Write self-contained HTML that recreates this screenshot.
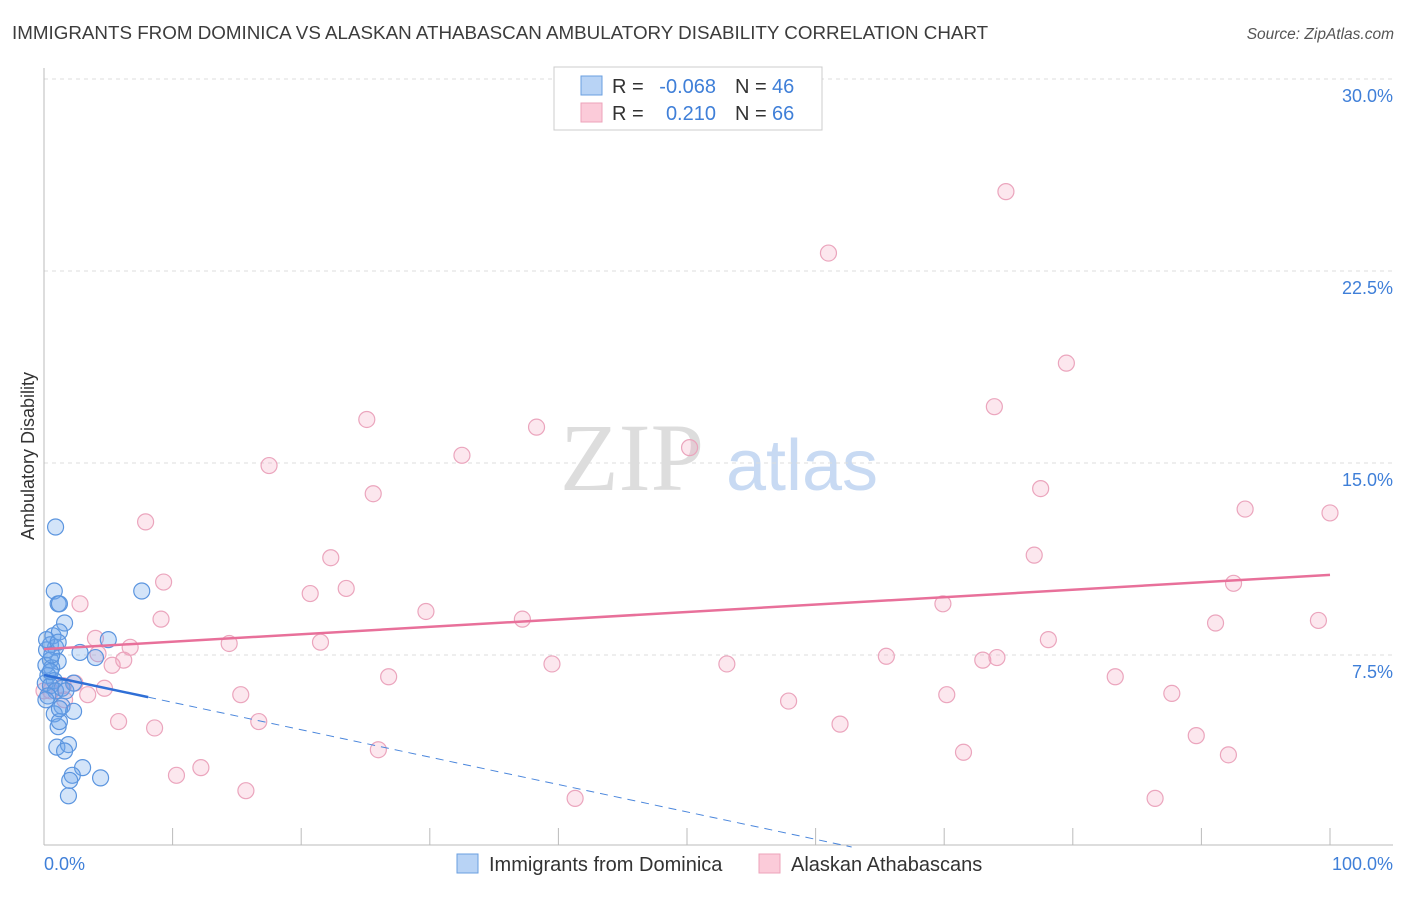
<!DOCTYPE html>
<html><head><meta charset="utf-8"><style>
body{margin:0;background:#fff;font-family:"Liberation Sans",sans-serif}
</style></head><body>
<svg width="1406" height="892" xmlns="http://www.w3.org/2000/svg" id="chart" font-family="Liberation Sans, sans-serif">
<text x="12" y="39" font-size="18.8" fill="#3c3c3c">IMMIGRANTS FROM DOMINICA VS ALASKAN ATHABASCAN AMBULATORY DISABILITY CORRELATION CHART</text>
<text x="1394" y="39" font-size="15.5" fill="#555" text-anchor="end" font-style="italic">Source: ZipAtlas.com</text>
<g><text x="632" y="490" font-size="96" fill="#ddd" text-anchor="middle" font-family="Liberation Serif, serif">ZIP</text><text x="802" y="490" font-size="72" fill="#c8daf3" text-anchor="middle">atlas</text></g>
<g id="grid"></g>
<line x1="44" y1="68" x2="44" y2="845" stroke="#bbb"/>
<line x1="44" y1="845" x2="1393" y2="845" stroke="#bbb"/>
<g id="ticks"></g>
<text transform="translate(34,456) rotate(-90)" font-size="18" fill="#333" text-anchor="middle">Ambulatory Disability</text>
<text x="44" y="870" font-size="18" fill="#3f7fd8">0.0%</text>
<text x="1393" y="870" font-size="18" fill="#3f7fd8" text-anchor="end">100.0%</text>
<g id="pts"></g>
<g id="lines"></g>
<g font-size="20">
<rect x="554" y="67" width="268" height="63" fill="#fff" stroke="#ccc"/>
<rect x="581" y="76" width="21" height="19" fill="#b8d3f5" stroke="#6a9fe0"/>
<rect x="581" y="103" width="21" height="19" fill="#fbcbd9" stroke="#eca3ba"/>
<text x="612" y="93" fill="#333">R =</text>
<text x="716" y="93" fill="#3f7fd8" text-anchor="end">-0.068</text>
<text x="735" y="93" fill="#333">N =</text>
<text x="772" y="93" fill="#3f7fd8">46</text>
<text x="612" y="120" fill="#333">R =</text>
<text x="716" y="120" fill="#3f7fd8" text-anchor="end">0.210</text>
<text x="735" y="120" fill="#333">N =</text>
<text x="772" y="120" fill="#3f7fd8">66</text>
</g>
<g>
<rect x="457" y="854" width="21" height="19" fill="#b8d3f5" stroke="#6a9fe0"/>
<text x="489" y="871" font-size="20" fill="#333">Immigrants from Dominica</text>
<rect x="759" y="854" width="21" height="19" fill="#fbcbd9" stroke="#eca3ba"/>
<text x="791" y="871" font-size="20" fill="#333">Alaskan Athabascans</text>
</g>
</svg>
<script>
const yTicks=[7.5,15.0,22.5,30.0];
const yTickLabels=["7.5%","15.0%","22.5%","30.0%"];
const xTicks=[10,20,30,40,50,60,70,80,90,100];
const blueX=[0.9,0.8,1.1,1.2,1.6,0.7,1.2,5.0,7.6,0.5,0.9,0.2,2.8,4.0,0.5,1.1,0.15,0.6,0.3,0.8,0.1,0.5,1.4,0.9,2.3,0.3,1.4,2.3,0.8,1.1,1.2,1.0,1.9,1.6,3.0,2.2,2.0,4.4,1.9,0.15,0.5,0.6,0.2,1.1,1.7,1.2];
const blueY=[12.5,10.0,9.5,9.5,8.75,8.25,8.4,8.1,10.0,7.9,7.8,7.7,7.6,7.4,7.3,7.25,7.1,7.0,6.7,6.5,6.4,6.3,6.2,6.1,6.4,5.9,5.5,5.3,5.2,4.7,4.9,3.9,4.0,3.75,3.1,2.8,2.6,2.7,2.0,5.75,6.85,7.5,8.1,8.0,6.1,5.4];
const pinkX=[74.8,61.0,79.5,73.9,25.1,38.3,50.2,32.5,17.5,77.5,25.6,93.4,7.9,100.0,22.3,77.0,9.3,92.5,23.5,20.7,2.8,29.7,69.9,9.1,37.2,91.1,99.1,4.0,21.5,78.1,14.4,6.7,4.2,65.5,5.3,6.2,39.5,53.1,73.0,74.1,26.8,83.3,2.4,0.5,4.7,1.5,3.4,15.3,70.2,87.7,57.9,5.8,16.7,8.6,61.9,89.6,26.0,71.5,92.1,12.2,10.3,15.7,41.3,86.4,0.0,1.6];
const pinkY=[25.6,23.2,18.9,17.2,16.7,16.4,15.6,15.3,14.9,14.0,13.8,13.2,12.7,13.05,11.3,11.4,10.35,10.3,10.1,9.9,9.5,9.2,9.5,8.9,8.9,8.75,8.85,8.15,8.0,8.1,7.95,7.8,7.55,7.45,7.1,7.3,7.15,7.15,7.3,7.4,6.65,6.65,6.4,6.1,6.2,6.3,5.95,5.95,5.95,6.0,5.7,4.9,4.9,4.65,4.8,4.35,3.8,3.7,3.6,3.1,2.8,2.2,1.9,1.9,6.1,5.75];
const pinkTrend=[7.73,10.63];
const blueTrend=[6.72,-0.107];
const blueSolidEnd=8.1;
const X=v=>44+v*12.86, Y=v=>847-v*25.6;
const NS="http://www.w3.org/2000/svg";
function mk(tag,attrs,parent){const e=document.createElementNS(NS,tag);for(const k in attrs)e.setAttribute(k,attrs[k]);document.getElementById(parent).appendChild(e);return e;}
yTicks.forEach((t,i)=>{
  const g=mk('line',{x1:44,x2:1393,y1:Y(t),y2:Y(t),stroke:'#ddd','stroke-dasharray':'4,4'},'grid');
  
  
  const l=mk('text',{x:1393,y:Y(t)+23,'font-size':18,fill:'#3f7fd8','text-anchor':'end'},'grid');
  l.textContent=yTickLabels[i];
  
  
});
xTicks.forEach(t=>{
  const l=mk('line',{x1:X(t),x2:X(t),y1:828,y2:845,stroke:'#bbb'},'ticks');
  
  
});
pinkX.forEach((x,i)=>{
  const c=mk('circle',{cx:X(x),cy:Y(pinkY[i]),r:8,fill:'rgba(244,160,188,0.25)',stroke:'#eba5bd','stroke-width':1.2},'pts');
  
  
});
blueX.forEach((x,i)=>{
  const c=mk('circle',{cx:X(x),cy:Y(blueY[i]),r:8,fill:'rgba(110,165,235,0.3)',stroke:'#5b95df','stroke-width':1.2},'pts');
  
  
});
const pl=mk('line',{x1:X(0),y1:Y(pinkTrend[0]),x2:X(100),y2:Y(pinkTrend[1]),stroke:'#e8709a','stroke-width':2.5},'lines');


const bz=-blueTrend[0]/blueTrend[1];
const bd=mk('line',{x1:X(blueSolidEnd),y1:Y(blueTrend[0]+blueTrend[1]*blueSolidEnd),x2:X(bz),y2:Y(0),stroke:'#4a86dc','stroke-width':1,'stroke-dasharray':'8,6'},'lines');


const bl=mk('line',{x1:X(0),y1:Y(blueTrend[0]),x2:X(blueSolidEnd),y2:Y(blueTrend[0]+blueTrend[1]*blueSolidEnd),stroke:'#2f6fd6','stroke-width':2.5},'lines');


</script>
</body></html>
